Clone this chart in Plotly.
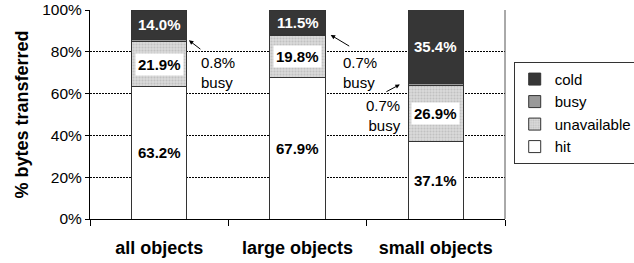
import plotly.graph_objects as go

categories = ["all objects", "large objects", "small objects"]
hit = [63.2, 67.9, 37.1]
unavailable = [21.9, 19.8, 26.9]
busy = [0.8, 0.7, 0.7]
cold = [14.0, 11.5, 35.4]
y_ticks = [0, 20, 40, 60, 80, 100]
y_tick_labels = ["0%", "20%", "40%", "60%", "80%", "100%"]

FONT = "Liberation Sans, Arial, sans-serif"
LINE = dict(color="#333333", width=1)

fig = go.Figure()
fig.add_trace(go.Bar(name="hit", x=categories, y=hit, width=0.4,
                     marker=dict(color="white", line=LINE)))
fig.add_trace(go.Bar(name="unavailable", x=categories, y=unavailable, width=0.4,
                     marker=dict(color="#d6d6d6", line=LINE,
                                 pattern=dict(shape=".", fgcolor="#a8a8a8", bgcolor="#dadada",
                                              size=3, solidity=0.4))))
fig.add_trace(go.Bar(name="busy", x=categories, y=busy, width=0.4,
                     marker=dict(color="#999999", line=LINE)))
fig.add_trace(go.Bar(name="cold", x=categories, y=cold, width=0.4,
                     marker=dict(color="#363636", line=LINE)))

annotations = []
for i, c in enumerate(categories):
    h, u, b, co = hit[i], unavailable[i], busy[i], cold[i]
    annotations.append(dict(x=c, y=h / 2, text=f"<b>{h:.1f}%</b>", showarrow=False,
                            bgcolor="white", font=dict(size=15, color="black", family=FONT)))
    annotations.append(dict(x=c, y=h + u / 2, text=f"<b>{u:.1f}%</b>", showarrow=False,
                            bgcolor="white", borderpad=2,
                            font=dict(size=15, color="black", family=FONT)))
    annotations.append(dict(x=c, y=h + u + b + co / 2, text=f"<b>{co:.1f}%</b>", showarrow=False,
                            font=dict(size=15, color="white", family=FONT)))

# busy callouts: (arrow head x index, i, tail dx, tail dy, text dx, text dy, align)
callouts = [
    (0.215, 0, 13, 10, 10, 32, "left"),
    (1.24, 1, 20, 12, 10, 38, "left"),
    (1.74, 2, -15, 8, 3, 31, "right"),
]
for hx, i, tdx, tdy, txdx, txdy, al in callouts:
    yv = hit[i] + unavailable[i] + busy[i] / 2
    annotations.append(dict(x=hx, y=yv, xref="x", yref="y", text="", showarrow=True,
                            arrowhead=2, arrowsize=0.9, arrowwidth=1, arrowcolor="black",
                            ax=tdx, ay=tdy, standoff=0))
    annotations.append(dict(x=hx, y=yv, xref="x", yref="y",
                            text=f"{busy[i]:.1f}%<br>busy", showarrow=False,
                            xshift=txdx, yshift=-txdy, align=al,
                            xanchor="left" if al == "left" else "right", yanchor="middle",
                            font=dict(size=15, color="black", family=FONT)))

fig.update_layout(
    width=634, height=263,
    margin=dict(l=90, r=129, t=10, b=44, autoexpand=False),
    barmode="stack", bargap=0.6,
    paper_bgcolor="white", plot_bgcolor="white",
    font=dict(family=FONT, color="black"),
    showlegend=True,
    legend=dict(x=1.021, y=0.752, xanchor="left", yanchor="top", traceorder="reversed",
                bordercolor="#333333", borderwidth=1, bgcolor="white",
                font=dict(size=15, family=FONT, color="black"),
                itemwidth=30, tracegroupgap=0),
    annotations=annotations,
    shapes=[dict(type="line", xref="paper", yref="paper", x0=1, x1=1, y0=0, y1=1,
                 line=dict(color="#555555", width=1))],
)
fig.update_xaxes(type="category", tickson="boundaries", ticks="outside", ticklen=6,
                 tickcolor="black", showline=True, linecolor="black", linewidth=1,
                 showgrid=False, range=[-0.5, 2.5], automargin=False,
                 tickfont=dict(size=18, family=FONT, color="black"),
                 ticklabelstandoff=12)
fig.update_xaxes(tickvals=categories, ticktext=[f"<b>{c}</b>" for c in categories])
fig.update_yaxes(range=[0, 100], tickvals=y_ticks, ticktext=y_tick_labels,
                 ticks="outside", ticklen=4, tickcolor="black",
                 showline=True, linecolor="black", linewidth=1,
                 showgrid=True, gridcolor="black", griddash="2px,1px", gridwidth=1,
                 zeroline=False, automargin=False, ticklabeloverflow="allow",
                 tickfont=dict(size=15.5, family=FONT, color="black"),
                 title=dict(text="<b>% bytes transferred</b>", standoff=8,
                            font=dict(size=18, family=FONT, color="black")))

fig.write_html("out.html", config={"displayModeBar": False},
               post_script="document.body.style.margin='0';document.body.style.overflow='hidden';")
